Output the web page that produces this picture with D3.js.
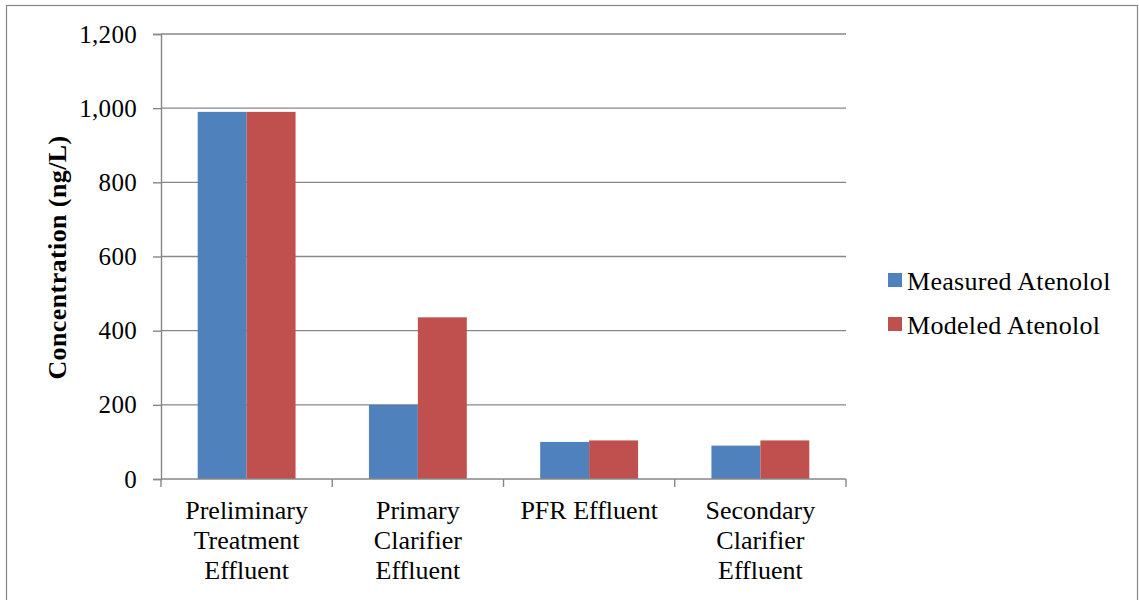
<!DOCTYPE html>
<html>
<head>
<meta charset="utf-8">
<script src="https://cdn.jsdelivr.net/npm/d3@7"></script>
<style>
  html, body { margin: 0; padding: 0; background: #fff; }
  svg { display: block; }
  text { font-family: "Liberation Serif", "Times New Roman", serif; fill: #000; }
</style>
</head>
<body>
<svg id="chart" width="1139" height="600"></svg>
<script>
// Atenolol concentrations through the treatment train (ng/L)
const categories = [
  ["Preliminary", "Treatment", "Effluent"],
  ["Primary", "Clarifier", "Effluent"],
  ["PFR Effluent"],
  ["Secondary", "Clarifier", "Effluent"]
];
const seriesNames = ["Measured Atenolol", "Modeled Atenolol"];
const measured = [990, 200, 100, 90];
const modeled = [990, 436, 104, 104];
const yTicks = [0, 200, 400, 600, 800, 1000, 1200];
const colors = ["#4F81BD", "#C0504D"];

const svg = d3.select("#chart");
const plot = { left: 161, right: 846, top: 34, bottom: 479 };
const axisGray = "#878787";

// outer chart border
svg.append("rect")
  .attr("x", 6.5).attr("y", 5.5)
  .attr("width", 1131).attr("height", 610)
  .attr("fill", "none").attr("stroke", axisGray).attr("stroke-width", 1.2);

const keys = categories.map((c, i) => i);
const x = d3.scaleBand().domain(keys).range([plot.left, plot.right]).paddingInner(0).paddingOuter(0);
const y = d3.scaleLinear().domain([0, 1200]).range([plot.bottom, plot.top]);

// horizontal gridlines
svg.append("g").selectAll("line").data(yTicks.filter(t => t > 0)).join("line")
  .attr("x1", plot.left).attr("x2", plot.right)
  .attr("y1", d => y(d)).attr("y2", d => y(d))
  .attr("stroke", axisGray).attr("stroke-width", 1.4);

// bars: two series per category, gap of 1.5 bar widths
const barW = x.bandwidth() / (2 + 1.5);
const series = [measured, modeled];
series.forEach((vals, s) => {
  svg.append("g").selectAll("rect").data(vals).join("rect")
    .attr("x", (d, i) => x(i) + x.bandwidth() / 2 - barW + s * barW)
    .attr("y", d => y(d))
    .attr("width", barW)
    .attr("height", d => y(0) - y(d))
    .attr("fill", colors[s]);
});

// y axis
const yAxis = d3.axisLeft(y).tickValues(yTicks).tickSize(8).tickPadding(16)
  .tickFormat(d3.format(","));
const gy = svg.append("g").attr("transform", `translate(${plot.left},0)`).call(yAxis);
gy.select(".domain").attr("stroke", axisGray).attr("stroke-width", 1.4);
gy.selectAll(".tick line").attr("stroke", axisGray).attr("stroke-width", 1.4);
gy.selectAll(".tick text")
  .style("font-family", "Liberation Serif, serif")
  .style("font-size", "25px").style("letter-spacing", "0.3px")
  .attr("fill", "#000");

// x axis: ticks at category boundaries
const boundaries = keys.map(k => x(k)).concat([plot.right]);
const gx = svg.append("g");
gx.append("line").attr("x1", plot.left).attr("x2", plot.right)
  .attr("y1", plot.bottom).attr("y2", plot.bottom)
  .attr("stroke", axisGray).attr("stroke-width", 1.4);
gx.selectAll("line.tk").data(boundaries).join("line").attr("class", "tk")
  .attr("x1", d => d).attr("x2", d => d)
  .attr("y1", plot.bottom).attr("y2", plot.bottom + 8)
  .attr("stroke", axisGray).attr("stroke-width", 1.4);

// category labels
categories.forEach((lines, i) => {
  const t = svg.append("text")
    .attr("text-anchor", "middle")
    .style("font-size", "26px");
  lines.forEach((ln, j) => {
    t.append("tspan").attr("x", x(i) + x.bandwidth() / 2).attr("y", 519 + j * 30).text(ln);
  });
});

// y axis title
svg.append("text")
  .attr("transform", `translate(66,${(plot.top + plot.bottom) / 2 + 1}) rotate(-90)`)
  .attr("text-anchor", "middle")
  .style("font-size", "26px").style("font-weight", "bold").style("letter-spacing", "0.4px")
  .text("Concentration (ng/L)");

// legend
const legend = svg.append("g");
seriesNames.forEach((name, i) => {
  const yy = 290 + i * 44;
  legend.append("rect").attr("x", 888).attr("y", yy - 17).attr("width", 14).attr("height", 14).attr("fill", colors[i]);
  legend.append("text").attr("x", 907).attr("y", yy)
    .style("font-size", "26px").style("letter-spacing", "0.3px").text(name);
});
</script>
</body>
</html>
